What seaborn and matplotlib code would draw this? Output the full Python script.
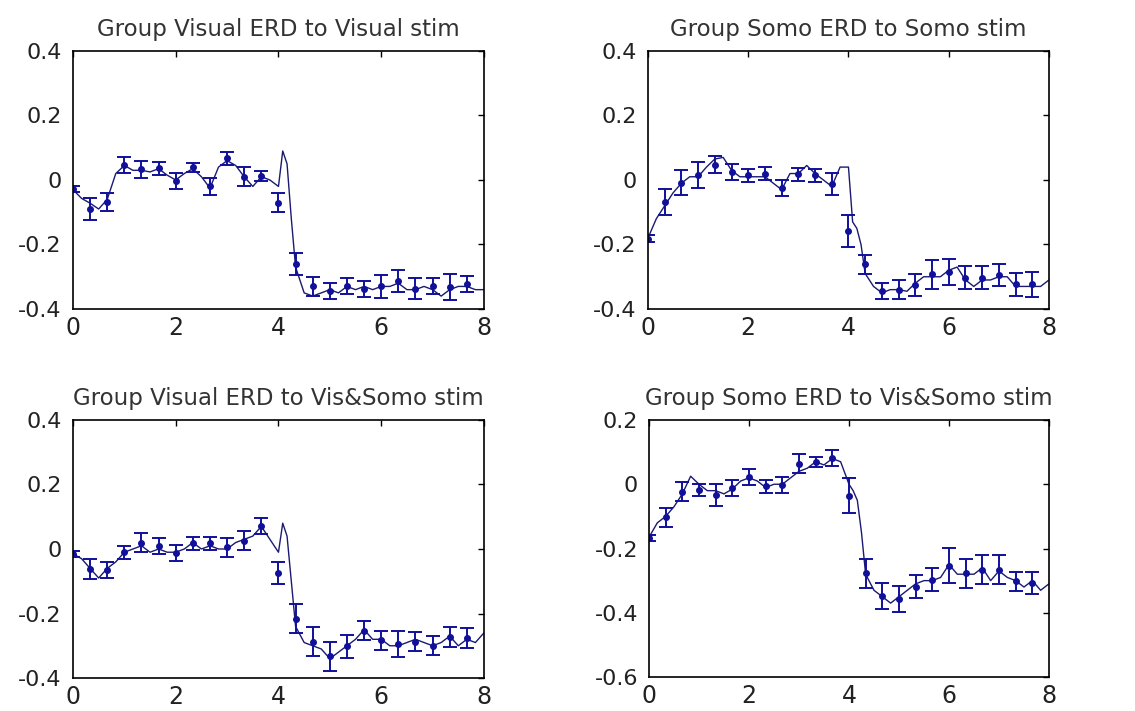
import matplotlib
matplotlib.use("Agg")
import matplotlib.pyplot as plt
import seaborn as sns
from matplotlib.ticker import FuncFormatter

# time of the averaged points (s)
pt_t = [0.0, 0.333, 0.667, 1.0, 1.333, 1.667, 2.0, 2.333, 2.667, 3.0, 3.333, 3.667,
        4.0, 4.333, 4.667, 5.0, 5.333, 5.667, 6.0, 6.333, 6.667, 7.0, 7.333, 7.667]

# time of the continuous trace (s)
line_t = [0.0, 0.167, 0.333, 0.5, 0.667, 0.833, 1.0, 1.167, 1.333, 1.5, 1.667, 1.833,
          2.0, 2.167, 2.333, 2.5, 2.667, 2.833, 3.0, 3.167, 3.333, 3.5, 3.667, 3.833,
          4.0, 4.083, 4.167, 4.25, 4.333, 4.5, 4.667, 4.833, 5.0, 5.167, 5.333, 5.5,
          5.667, 5.833, 6.0, 6.167, 6.333, 6.5, 6.667, 6.833, 7.0, 7.167, 7.333, 7.5,
          7.667, 7.833, 8.0]

titles = ["Group Visual ERD to Visual stim", "Group Somo ERD to Somo stim",
          "Group Visual ERD to Vis&Somo stim", "Group Somo ERD to Vis&Somo stim"]

# panel 1: visual ERD, visual stim
vis_vis_pts = [-0.028, -0.09, -0.068, 0.046, 0.033, 0.036, -0.003, 0.039, -0.02, 0.067, 0.01, 0.013,
               -0.07, -0.26, -0.33, -0.345, -0.328, -0.337, -0.33, -0.313, -0.337, -0.33, -0.333, -0.323]
vis_vis_err = [0.01, 0.033, 0.027, 0.025, 0.027, 0.02, 0.025, 0.015, 0.025, 0.02, 0.03, 0.015,
               0.03, 0.035, 0.03, 0.025, 0.025, 0.025, 0.035, 0.033, 0.033, 0.025, 0.04, 0.025]
vis_vis_line = [-0.03, -0.057, -0.072, -0.09, -0.06, 0.02, 0.045, 0.03, 0.03, 0.025, 0.035, 0.015,
                0.0, 0.02, 0.035, 0.01, -0.025, 0.04, 0.06, 0.045, 0.01, -0.02, 0.01, 0.0,
                -0.02, 0.09, 0.05, -0.12, -0.27, -0.35, -0.36, -0.35, -0.34, -0.35, -0.33, -0.34,
                -0.33, -0.34, -0.33, -0.33, -0.32, -0.34, -0.34, -0.33, -0.34, -0.36, -0.34, -0.33,
                -0.33, -0.34, -0.34]

# panel 2: somato ERD, somato stim
somo_somo_pts = [-0.182, -0.067, -0.008, 0.015, 0.048, 0.026, 0.015, 0.02, -0.026, 0.018, 0.015, -0.013,
                 -0.158, -0.262, -0.343, -0.34, -0.326, -0.292, -0.285, -0.303, -0.303, -0.295, -0.324, -0.324]
somo_somo_err = [0.01, 0.04, 0.04, 0.04, 0.025, 0.025, 0.02, 0.02, 0.025, 0.02, 0.02, 0.035,
                 0.05, 0.03, 0.025, 0.03, 0.035, 0.045, 0.04, 0.035, 0.035, 0.035, 0.035, 0.04]
somo_somo_line = [-0.18, -0.12, -0.08, -0.04, -0.01, 0.01, 0.01, 0.04, 0.065, 0.07, 0.03, 0.01,
                  0.01, 0.01, 0.01, -0.01, -0.03, 0.02, 0.02, 0.045, 0.02, 0.0, -0.02, 0.04,
                  0.04, -0.13, -0.15, -0.2, -0.29, -0.33, -0.35, -0.34, -0.34, -0.345, -0.32, -0.3,
                  -0.3, -0.3, -0.28, -0.27, -0.31, -0.33, -0.31, -0.31, -0.3, -0.3, -0.33, -0.33,
                  -0.33, -0.33, -0.31]

# panel 3: visual ERD, combined stim
vis_both_pts = [-0.015, -0.062, -0.065, -0.01, 0.02, 0.01, -0.012, 0.018, 0.018, 0.005, 0.026, 0.07,
                -0.074, -0.216, -0.288, -0.333, -0.302, -0.253, -0.283, -0.294, -0.287, -0.3, -0.273, -0.276]
vis_both_err = [0.01, 0.03, 0.025, 0.02, 0.03, 0.025, 0.025, 0.02, 0.02, 0.03, 0.03, 0.025,
                0.035, 0.045, 0.045, 0.045, 0.035, 0.03, 0.03, 0.04, 0.03, 0.03, 0.03, 0.03]
vis_both_line = [-0.015, -0.03, -0.06, -0.09, -0.06, -0.04, -0.01, 0.0, 0.01, -0.01, 0.0, -0.01,
                 -0.01, 0.0, 0.02, 0.0, 0.01, 0.0, 0.0, 0.02, 0.03, 0.04, 0.07, 0.03,
                 -0.01, 0.08, 0.04, -0.1, -0.24, -0.29, -0.3, -0.31, -0.34, -0.32, -0.3, -0.28,
                 -0.25, -0.28, -0.28, -0.3, -0.3, -0.29, -0.28, -0.29, -0.3, -0.29, -0.27, -0.3,
                 -0.28, -0.29, -0.26]

# panel 4: somato ERD, combined stim
somo_both_pts = [-0.167, -0.103, -0.023, -0.018, -0.033, -0.013, 0.023, -0.007, -0.002, 0.064, 0.069, 0.083,
                 -0.036, -0.277, -0.347, -0.357, -0.319, -0.297, -0.253, -0.277, -0.266, -0.266, -0.302, -0.308]
somo_both_err = [0.01, 0.03, 0.03, 0.02, 0.035, 0.025, 0.025, 0.02, 0.025, 0.03, 0.015, 0.025,
                 0.055, 0.045, 0.04, 0.04, 0.035, 0.035, 0.055, 0.045, 0.045, 0.045, 0.03, 0.035]
somo_both_line = [-0.165, -0.12, -0.1, -0.07, -0.03, 0.025, 0.0, -0.02, -0.02, -0.03, -0.015, 0.01,
                  0.02, 0.01, -0.01, 0.0, 0.0, 0.02, 0.04, 0.05, 0.07, 0.06, 0.08, 0.07,
                  0.0, -0.02, -0.05, -0.15, -0.28, -0.33, -0.35, -0.37, -0.35, -0.33, -0.31, -0.3,
                  -0.3, -0.29, -0.25, -0.28, -0.28, -0.28, -0.26, -0.3, -0.27, -0.29, -0.3, -0.32,
                  -0.3, -0.33, -0.31]

panels = [
    (vis_vis_line, vis_vis_pts, vis_vis_err, (-0.4, 0.4)),
    (somo_somo_line, somo_somo_pts, somo_somo_err, (-0.4, 0.4)),
    (vis_both_line, vis_both_pts, vis_both_err, (-0.4, 0.4)),
    (somo_both_line, somo_both_pts, somo_both_err, (-0.6, 0.2)),
]

sns.set_theme(style="white")
plt.rcParams["font.family"] = ["DejaVu Sans"]
plt.rcParams["axes.unicode_minus"] = False

fig = plt.figure(figsize=(11.35, 7.11), dpi=100)
rects = [
    [0.0643, 0.5654, 0.3621, 0.3629],
    [0.5709, 0.5654, 0.3533, 0.3629],
    [0.0643, 0.0464, 0.3621, 0.3629],
    [0.5718, 0.0478, 0.3524, 0.3615],
]

line_col = "#1a1a70"
pt_col = "#10109a"

for rect, title, (line_y, pts, err, ylim) in zip(rects, titles, panels):
    ax = fig.add_axes(rect)
    sns.lineplot(x=line_t, y=line_y, ax=ax, color=line_col, linewidth=1.0,
                 estimator=None, sort=False)
    ax.errorbar(pt_t, pts, yerr=err, fmt=".", color=pt_col, ecolor=pt_col,
                markersize=8, elinewidth=1.4, capsize=5, capthick=1.4)
    ax.set_xlim(0, 8)
    ax.set_ylim(*ylim)
    ax.set_xticks([0, 2, 4, 6, 8])
    lo, hi = ylim
    ax.set_yticks([round(lo + 0.2 * i, 1) for i in range(5)])
    ax.yaxis.set_major_formatter(FuncFormatter(lambda v, p: f"{round(v, 1) + 0.0:g}"))
    ax.tick_params(direction="in", length=4, width=1, top=True, right=True,
                   colors="black")
    ax.tick_params(axis="y", labelsize=16, pad=8)
    ax.tick_params(axis="x", labelsize=17, pad=5)
    for lab in ax.get_xticklabels() + ax.get_yticklabels():
        lab.set_color("#222222")
    for sp in ax.spines.values():
        sp.set_color("black")
        sp.set_linewidth(1.2)
    ax.set_title(title, fontsize=16.5, color="#333333", pad=11)

fig.savefig("out.png", dpi=100, facecolor="white")
